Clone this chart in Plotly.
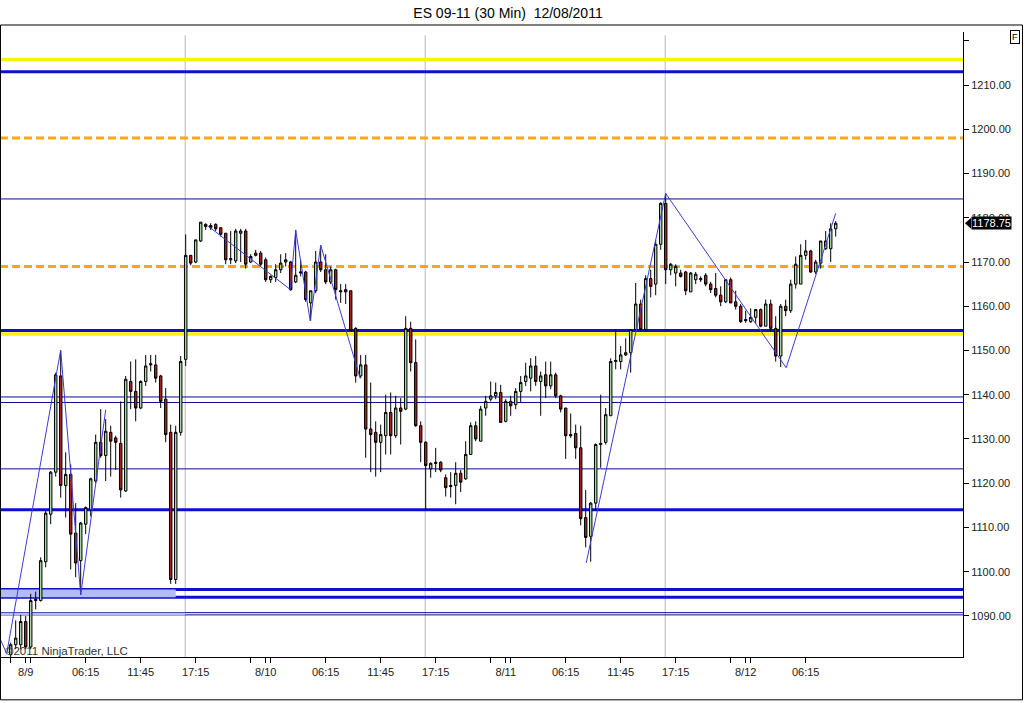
#!/usr/bin/env python
# coding: utf-8
# ES 09-11 30 minute candles, 8/9 - 8/12 2011, with support/resistance levels

import plotly.graph_objects as go

# ---- data ----
opens = [1081.25, 1083.5, 1083.5, 1088.75, 1083, 1093.5, 1093.5, 1102.25, 1113, 1122.5,
         1144.25, 1119.5, 1122, 1108.75, 1102.5, 1110.75, 1114, 1120.5, 1129.25, 1126.25,
         1131.5, 1130.25, 1129, 1118.25, 1143, 1140.75, 1137, 1143, 1146.75, 1146.75,
         1144.25, 1139, 1131.5, 1098.25, 1131.5, 1148, 1171.5, 1170, 1174.75, 1178,
         1177.75, 1178.5, 1177.75, 1176.5, 1170.5, 1170.25, 1176.5, 1177, 1170, 1171.5,
         1172, 1170.5, 1166, 1166.5, 1168.25, 1170, 1170, 1165.5, 1167.5, 1167.75,
         1160.75, 1163.5, 1170, 1168.25, 1165.5, 1168.25, 1163.25, 1163.75, 1163.5, 1155,
         1144.25, 1146.75, 1132.25, 1131.5, 1129.25, 1130.75, 1136, 1130.75, 1137, 1136.75,
         1155, 1147.25, 1133, 1129.25, 1123.25, 1124.75, 1124.75, 1121.25, 1119.5, 1119.5,
         1122.25, 1121, 1126.5, 1133, 1129.5, 1137, 1139, 1139.75, 1140.5, 1134,
         1138.5, 1137.75, 1140.75, 1143, 1143.75, 1146.5, 1143, 1144.5, 1142, 1144.5,
         1139.75, 1137, 1131, 1131.25, 1128, 1112.25, 1108, 1115.5, 1128.75, 1129.25,
         1135.25, 1147.5, 1147.5, 1149, 1149.5, 1154.75, 1160.5, 1154.75, 1166.25, 1165,
         1174, 1183.25, 1168.25, 1167.5, 1167.5, 1167.75, 1163.25, 1166, 1166, 1167,
         1165, 1164, 1162.5, 1161, 1166, 1161, 1160, 1157, 1156.5, 1157.5,
         1159.25, 1155.5, 1160.5, 1155, 1148.75, 1160, 1159, 1165, 1165, 1171.5,
         1172.5, 1167.75, 1169.75, 1173, 1173, 1177.5]
highs = [1084, 1089, 1090.25, 1090, 1095, 1095.5, 1103.25, 1113.75, 1122.75, 1145,
         1150, 1127, 1124.25, 1115.5, 1111.25, 1114.75, 1121.25, 1131, 1136.75, 1134.5,
         1133, 1130.75, 1138.5, 1144.25, 1147.5, 1148, 1143.25, 1149, 1149, 1149,
         1144.5, 1141.5, 1133.25, 1133, 1148.75, 1176.25, 1171.5, 1175, 1179, 1178.75,
         1178.75, 1178.75, 1177.75, 1176.5, 1177, 1177.5, 1177.5, 1177.5, 1171.75, 1172.75,
         1172.5, 1171, 1167, 1169.5, 1171.75, 1172, 1170.25, 1177.25, 1170.5, 1168,
         1163.5, 1172.5, 1173.75, 1171.75, 1169, 1168.5, 1165, 1165, 1163.5, 1155.25,
         1149, 1149, 1142.75, 1134, 1133.25, 1140, 1140.5, 1139.75, 1139.25, 1157.75,
         1156.5, 1152.5, 1134, 1129.5, 1124.75, 1128, 1125, 1122, 1122.5, 1124.75,
         1123, 1129.5, 1133.75, 1134, 1137.5, 1139.75, 1143, 1142.75, 1142.25, 1139,
         1139.75, 1141.5, 1144.25, 1147.25, 1148.25, 1148.75, 1145.25, 1147.5, 1147.5, 1145,
         1140, 1137, 1135.75, 1133.25, 1133, 1118.5, 1115.75, 1129, 1140, 1137,
         1148.25, 1154.75, 1151, 1152.75, 1154.75, 1165.25, 1161.5, 1167, 1168.25, 1175,
         1183.5, 1185.5, 1169.75, 1169.5, 1168.25, 1168, 1167.75, 1167.75, 1166.75, 1167.5,
         1165.5, 1167.5, 1164.5, 1166, 1166.5, 1163.5, 1160.5, 1159, 1159.5, 1159.25,
         1159.5, 1161.5, 1161.5, 1157.75, 1160.5, 1161.5, 1166, 1171.25, 1174, 1175,
         1172.75, 1170.5, 1174.75, 1177, 1178.75, 1179.25]
lows = [1080, 1082.5, 1082.5, 1082.5, 1082.5, 1091.5, 1093.25, 1101, 1110.75, 1121.5,
        1116.75, 1112.25, 1100.5, 1098.75, 1094.75, 1108.5, 1112.5, 1120, 1125.75, 1120.5,
        1121.5, 1123, 1116.75, 1118, 1136.75, 1134, 1136.75, 1142, 1145.25, 1142.75,
        1137, 1129.25, 1097.25, 1097.25, 1130.75, 1146.5, 1169.25, 1169.75, 1174.5, 1177.25,
        1177.25, 1177, 1175.75, 1169.5, 1169.5, 1169.75, 1170, 1168.5, 1169.75, 1171.25,
        1169, 1165.5, 1165.25, 1165.5, 1167.5, 1169, 1163.5, 1165.25, 1166.75, 1161,
        1156.75, 1163, 1167.75, 1165, 1165, 1161.5, 1160.75, 1160.5, 1154.25, 1142.75,
        1143.75, 1125.75, 1122.5, 1121.5, 1122.5, 1126.5, 1126.5, 1130.25, 1128.75, 1136.5,
        1145.25, 1132.75, 1124.75, 1114, 1121.25, 1122.5, 1122.5, 1117, 1116.75, 1115.25,
        1118, 1120.75, 1126.5, 1129.5, 1129.5, 1135.25, 1138.5, 1139, 1133.75, 1133.75,
        1135.25, 1136.75, 1138.25, 1142, 1140.75, 1142, 1135.25, 1139.25, 1141.25, 1139.25,
        1136, 1125.5, 1130.25, 1125.5, 1110.5, 1105.5, 1102.25, 1113.75, 1123.5, 1128.75,
        1135.25, 1145.75, 1145.75, 1148.75, 1145, 1154.5, 1154.5, 1154.25, 1162, 1162.5,
        1172.75, 1165, 1167, 1164.5, 1166.5, 1162.5, 1163.25, 1165, 1165.5, 1164.5,
        1163, 1162, 1160, 1160.75, 1160.75, 1159.25, 1156.25, 1156.25, 1156.25, 1156,
        1155.25, 1155.5, 1154.5, 1147.5, 1146.25, 1157.75, 1158.5, 1164, 1165, 1170.5,
        1167.5, 1167.25, 1168.5, 1172.75, 1170, 1175.75]
closes = [1083.5, 1085, 1088.75, 1083, 1093.5, 1093.75, 1102.5, 1113.25, 1122.5, 1144.5,
          1119.5, 1122, 1108.5, 1102, 1111, 1114.5, 1121, 1129.25, 1126.25, 1131.75,
          1129.5, 1129.25, 1118.5, 1143.5, 1140.75, 1137, 1143, 1146.5, 1147, 1143.75,
          1138.5, 1131, 1098.25, 1131.5, 1147.5, 1171.5, 1169.75, 1175, 1179, 1178.5,
          1178.25, 1177.5, 1176.25, 1170.5, 1170.75, 1177, 1177, 1169.5, 1171.25, 1172,
          1169.5, 1166, 1166.75, 1168.25, 1169.75, 1170.5, 1163.75, 1167, 1167.75, 1161.5,
          1163.5, 1170, 1168.25, 1165.5, 1168.25, 1163.75, 1163.5, 1163.25, 1154.5, 1144.25,
          1146.75, 1132.25, 1131, 1129.25, 1131, 1136, 1130.75, 1137, 1136.25, 1155,
          1147.25, 1133, 1129.25, 1124, 1124.5, 1124.5, 1123, 1119, 1119.25, 1122.25,
          1120.25, 1126.5, 1133, 1130, 1136.75, 1138.5, 1139.75, 1140.5, 1133.75, 1138.5,
          1137.5, 1140.75, 1142.75, 1144.25, 1146.5, 1143, 1144.25, 1142, 1144.5, 1139.75,
          1136.75, 1130.75, 1130.75, 1128, 1112, 1107.75, 1115.5, 1128.75, 1129, 1135.5,
          1147.5, 1147.75, 1149, 1149.5, 1154.75, 1160.5, 1154.75, 1166.25, 1164.5, 1174,
          1183.25, 1168.25, 1169.5, 1169, 1166.75, 1163.5, 1167.5, 1167.25, 1166.25, 1165,
          1163.75, 1162.5, 1161, 1166, 1160.75, 1160, 1156.5, 1156.75, 1157.5, 1159.25,
          1155.5, 1160.5, 1155, 1148.75, 1160, 1159, 1165, 1169.5, 1171.5, 1172.5,
          1167.75, 1170, 1174.75, 1174.75, 1177.5, 1178.75]

# x axis: bar index of each labelled tick and its text
tick_bars = [3, 15, 26, 37, 51, 63, 74, 85, 99, 111, 122, 133, 147, 159]
tick_labels = ["8/9", "06:15", "11:45", "17:15", "8/10", "06:15", "11:45", "17:15",
               "8/11", "06:15", "11:45", "17:15", "8/12", "06:15"]
minor_tick_bars = [0, 4, 48, 52, 96, 100, 144, 148]
session_breaks = [34.9, 82.9, 130.9]

# horizontal price levels
yellow_levels = [1215.75, 1153.75]
blue_levels = [1213.0, 1154.5, 1114.0, 1096.0, 1094.25]
orange_levels = [1198.0, 1169.0]
navy_levels = [1184.25, 1139.5, 1138.25, 1123.25, 1090.75, 1090.25]
# shaded zones: (low, high, last bar)
zones = [(1094.25, 1096.0, 33.0), (1090.25, 1090.75, 34.9)]

# zigzag swing lines (None = break)
zig_bars = [-2.2, -0.8, 10, 14, 19, None,
            39.5, 55.9, 57, 59.9, 62, 69.9, None,
            115.1, 131, 155.1, 165]
zig_prices = [1085.0, 1081.5, 1150.1, 1094.75, 1136.6, None,
              1178.1, 1163.8, 1177.2, 1156.7, 1173.8, 1143.7, None,
              1102.0, 1185.5, 1146.1, 1181.0]

y_ticks = list(range(1090, 1230, 10))

FONT = "Liberation Sans, Arial, sans-serif"
X_MIN, X_MAX = -2.14, 190.46
Y_MIN, Y_MAX = 1080.73, 1221.98

bars = list(range(len(closes)))

fig = go.Figure()

fig.add_trace(go.Candlestick(
    x=bars, open=opens, high=highs, low=lows, close=closes,
    increasing=dict(line=dict(color="black", width=1), fillcolor="#a3d6a3"),
    decreasing=dict(line=dict(color="black", width=1), fillcolor="#a8201c"),
    whiskerwidth=0,
    hoverinfo="x+y",
    showlegend=False,
))

fig.add_trace(go.Scatter(
    x=zig_bars, y=zig_prices, mode="lines",
    line=dict(color="#3b3bd6", width=1),
    connectgaps=False, hoverinfo="skip", showlegend=False,
))

shapes = []
# session break grid lines
for b in session_breaks:
    shapes.append(dict(type="line", xref="x", yref="paper", x0=b, x1=b, y0=0, y1=0.995,
                       line=dict(color="#b9b9b9", width=1), layer="below"))
# shaded zones
for lo, hi, end in zones:
    shapes.append(dict(type="rect", xref="x", yref="y", x0=X_MIN, x1=end, y0=lo, y1=hi,
                       fillcolor="#b3bcf2", line=dict(width=0), layer="below"))


def hline(price, color, width, dash="solid"):
    return dict(type="line", xref="paper", yref="y", x0=0, x1=1, y0=price, y1=price,
                line=dict(color=color, width=width, dash=dash), layer="below")


for p in navy_levels:
    shapes.append(hline(p, "#0a0a9c", 1))
for p in orange_levels:
    shapes.append(hline(p, "#f5a81c", 3, "8px,4px"))
for p in yellow_levels:
    shapes.append(hline(p, "#f7f20a", 3.5))
for p in blue_levels:
    shapes.append(hline(p, "#0a10cc", 3))

# last price marker arrow on the price axis
last = closes[-1]
shapes.append(dict(type="path", xref="paper", yref="y",
                   path=f"M 1.002,{last} L 1.0085,{last + 1.25} L 1.0085,{last - 1.25} Z",
                   fillcolor="black", line=dict(width=0)))
# outer frame
shapes.append(dict(type="rect", xref="paper", yref="paper", x0=0.0005, x1=1.0618,
                   y0=-0.0685, y1=1.0112, line=dict(color="black", width=1)))

annotations = [
    dict(text=f"{last:.2f}", xref="paper", yref="y", x=1.0083, y=last,
         xanchor="left", yanchor="middle", showarrow=False, bgcolor="black",
         borderpad=0, font=dict(family=FONT, size=11, color="white")),
    dict(text="F", xref="paper", yref="paper", x=1.0545, y=0.9925, xanchor="center",
         yanchor="middle", showarrow=False, bordercolor="black", borderwidth=1,
         borderpad=1, bgcolor="white", font=dict(family=FONT, size=9, color="black")),
    dict(text="©2011 NinjaTrader, LLC", xref="paper", yref="paper", x=0.003, y=0.01,
         xanchor="left", yanchor="middle", showarrow=False,
         font=dict(family=FONT, size=11.5, color="#333333")),
]

fig.update_layout(
    width=1024, height=703,
    margin=dict(l=0, r=61, t=32, b=46, autoexpand=False),
    paper_bgcolor="white", plot_bgcolor="white",
    font=dict(family=FONT, size=11, color="black"),
    title=dict(text="ES 09-11 (30 Min)  12/08/2011", x=508 / 1024, y=1 - 13 / 703,
               xref="container", yref="container", xanchor="center", yanchor="middle",
               font=dict(family=FONT, size=14, color="black")),
    shapes=shapes,
    annotations=annotations,
    xaxis=dict(range=[X_MIN, X_MAX], rangeslider=dict(visible=False),
               showgrid=False, zeroline=False, showline=True, linecolor="black",
               linewidth=1, ticks="outside", ticklen=5, tickcolor="black",
               tickvals=tick_bars + minor_tick_bars,
               ticktext=tick_labels + [""] * len(minor_tick_bars),
               tickfont=dict(family=FONT, size=11, color="#222222")),
    yaxis=dict(range=[Y_MIN, Y_MAX], side="right", showgrid=False, zeroline=False,
               showline=True, linecolor="black", linewidth=1, ticks="outside",
               ticklen=5, tickcolor="black", tickvals=y_ticks,
               ticktext=[f"{v:.2f}" if v < 1220 else "" for v in y_ticks],
               tickfont=dict(family=FONT, size=11, color="#222222")),
)

# page has a default 8px body margin; drop it so the chart sits at the window corner
fig.write_html("out.html", config={"displayModeBar": False},
               post_script="document.body.style.margin='0';")
